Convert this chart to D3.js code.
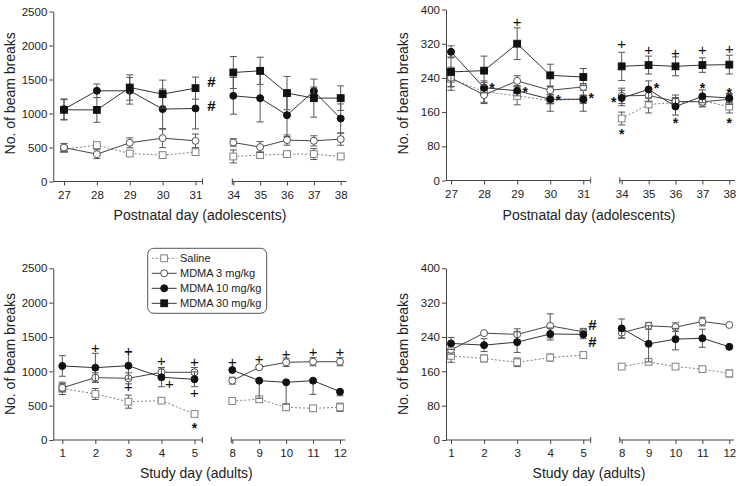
<!DOCTYPE html>
<html><head><meta charset="utf-8">
<script src="https://cdn.jsdelivr.net/npm/d3@7"></script>
<style>
body{margin:0;background:#fff;}
svg{display:block;font-family:"Liberation Sans",Arial,Helvetica,sans-serif;}
</style></head><body>
<svg id="c" width="739" height="486"></svg>
<script>
// ---------- DATA ----------
const adolDays = [27,28,29,30,31,34,35,36,37,38];
const adultDays = [1,2,3,4,5,8,9,10,11,12];
const groups = ["Saline","MDMA 3 mg/kg","MDMA 10 mg/kg","MDMA 30 mg/kg"];
const yTicksTotal = [0,500,1000,1500,2000,2500];
const yTicksVert = [0,80,160,240,320,400];

// top-left (adolescents, scale 0-2500)
const tlSaline = [476,535,412,388,432,368,388,403,403,368];
const tlSalineErr = [40,30,25,20,35,95,30,40,80,20];
const tl3 = [500,402,569,638,598,574,506,609,598,623];
const tl3Err = [60,65,73,140,100,55,80,75,75,90];
const tl10 = [1064,1334,1334,1065,1074,1260,1226,976,1329,926];
const tl10Err = [150,100,196,295,300,270,350,315,60,215];
const tl30 = [1054,1053,1382,1285,1373,1603,1628,1300,1226,1226];
const tl30Err = [150,182,186,206,162,235,200,245,280,180];

// top-right (adolescents, scale 0-400)
const trSaline = [238,208,198,187,191,145,178,182,186,173];
const trSalineErr = [27,25,21,25,29,15,20,12,12,15];
const tr3 = [240,200,233,211,219,198,199,185,184,190];
const tr3Err = [20,20,12,10,8,18,15,15,12,12];
const tr10 = [301,217,210,190,190,193,213,173,197,193];
const tr10Err = [14,12,12,10,10,18,20,20,15,10];
const tr30 = [254,257,320,246,242,267,270,267,270,271];
const tr30Err = [35,34,37,26,20,33,21,22,17,22];

// bottom-left (adults, scale 0-2500)
const blSaline = [752,670,558,573,379,568,593,476,461,476];
const blSalineErr = [90,80,95,40,20,20,40,40,40,60];
const bl3 = [760,908,898,986,986,864,1058,1131,1140,1140];
const bl3Err = [60,70,80,70,70,50,30,60,60,60];
const bl10 = [1078,1053,1082,913,884,1019,864,840,864,704];
const bl10ErrUp = [150,209,195,137,108,0,0,0,0,0];
const bl10ErrDn = [150,209,195,137,108,0,257,316,199,60];

// bottom-right (adults, scale 0-400)
const brSaline = [196,190,181,192,198,171,182,171,165,155];
const brSalineErr = [15,8,10,8,0,5,6,4,4,8];
const br3 = [210,249,246,266,252,250,266,263,276,268];
const br3Err = [10,0,13,28,8,13,8,10,10,0];
const br10 = [225,221,228,247,246,260,224,235,237,217];
const br10Err = [14,15,24,14,10,22,42,25,21,0];

// significance symbols: [day, value position, symbol]
const tlMarks = [[31,1463,"#"],[31,1110,"#"]];
const trMarks = [[29,370,"+"],[28,223,"*"],[29,214,"*"],[30,196,"*"],[31,200,"*"],
  [34,319,"+"],[34,192,"*"],[34,116,"*"],[35,305,"+"],[35,223,"*"],[36,299,"+"],[36,143,"*"],
  [37,304,"+"],[37,223,"*"],[38,308,"+"],[38,213,"*"],[38,143,"*"]];
const trMarkDx = [0,8,8,8,8, 0,-8,0,0,8,0,0, 0,0,0,0,0];
const blMarks = [[2,1335,"+"],[3,1300,"+"],[3,767,"+"],[4,1155,"+"],[4,815,"+"],[5,1131,"+"],[5,689,"+"],[5,218,"*"],
  [8,1140,"+"],[9,1179,"+"],[10,1252,"+"],[11,1286,"+"],[12,1277,"+"]];
const blMarkDx = [0,0,0,0,8,0,0,0,0,0,0,0,0];
const brMarks = [[5,268,"#"],[5,229,"#"]];

// ---------- STYLE ----------
const styles = [
  {sym:"square", fill:"#fff", stroke:"#808080", line:"#808080", dash:"2,2"},
  {sym:"circle", fill:"#fff", stroke:"#505050", line:"#444", dash:null},
  {sym:"circle", fill:"#111", stroke:"#111", line:"#333", dash:null},
  {sym:"square", fill:"#111", stroke:"#111", line:"#333", dash:null}
];
const axisColor = "#444", textColor = "#222", errColor = "#555";

const mk = (v, up, dn) => ({v, up, dn: dn || up});

const panels = [
  {days:adolDays, yMax:2500, yTicks:yTicksTotal, ax:53.3, y0:181.5, y1:11.5,
   a:[64,195.5], aEnd:202.5, b:[233.3,340.7], bStart:232.3, bEnd:346.5,
   title:"Postnatal day (adolescents)", tx:200, ty:219.7, ytx:15, yty:93.3,
   series:[mk(tlSaline,tlSalineErr), mk(tl3,tl3Err), mk(tl10,tl10Err), mk(tl30,tl30Err)],
   marks:tlMarks, markDx:[16,16]},
  {days:adolDays, yMax:400, yTicks:yTicksVert, ax:446, y0:180.5, y1:9.5,
   a:[451,583.3], aEnd:590.7, b:[621.7,729.3], bStart:619.8, bEnd:735,
   title:"Postnatal day (adolescents)", tx:589, ty:219.7, ytx:408.3, yty:93.3,
   series:[mk(trSaline,trSalineErr), mk(tr3,tr3Err), mk(tr10,tr10Err), mk(tr30,tr30Err)],
   marks:trMarks, markDx:trMarkDx},
  {days:adultDays, yMax:2500, yTicks:yTicksTotal, ax:53.3, y0:440, y1:268.3,
   a:[62.3,194.5], aEnd:202.3, b:[232.3,340], bStart:231.3, bEnd:345.5,
   title:"Study day (adults)", tx:196.3, ty:477.7, ytx:15, yty:354,
   series:[mk(blSaline,blSalineErr), mk(bl3,bl3Err), mk(bl10,bl10ErrUp,bl10ErrDn), null],
   marks:blMarks, markDx:blMarkDx},
  {days:adultDays, yMax:400, yTicks:yTicksVert, ax:446, y0:440, y1:268.3,
   a:[451,583.3], aEnd:590.7, b:[621.7,729.3], bStart:619.8, bEnd:734,
   title:"Study day (adults)", tx:589, ty:477.7, ytx:408.3, yty:354,
   series:[mk(brSaline,brSalineErr), mk(br3,br3Err), mk(br10,br10Err), null],
   marks:brMarks, markDx:[9,9]}
];

const svg = d3.select("#c");
svg.append("rect").attr("width",739).attr("height",486).attr("fill","#fff");

function drawSymbol(g, st, x, y) {
  if (st.sym === "square") {
    g.append("rect").attr("x", x-3.4).attr("y", y-3.4).attr("width",6.8).attr("height",6.8)
      .attr("fill", st.fill).attr("stroke", st.stroke).attr("stroke-width",1);
  } else {
    g.append("circle").attr("cx", x).attr("cy", y).attr("r",3.5)
      .attr("fill", st.fill).attr("stroke", st.stroke).attr("stroke-width",1);
  }
}

const symOffset = {"+":4.9, "*":8.3, "#":5.0};

panels.forEach(p => {
  const g = svg.append("g");
  const y = d3.scaleLinear().domain([0,p.yMax]).range([p.y0,p.y1]);
  const daysA = p.days.slice(0,5), daysB = p.days.slice(5);
  const xA = d3.scaleLinear().domain([daysA[0], daysA[4]]).range(p.a);
  const xB = d3.scaleLinear().domain([daysB[0], daysB[4]]).range(p.b);
  const xp = d => daysA.includes(d) ? xA(d) : xB(d);

  // y axis
  const ya = g.append("g").attr("transform",`translate(${p.ax},0)`)
    .call(d3.axisLeft(y).tickValues(p.yTicks).tickFormat(d3.format("d"))
      .tickSize(4).tickPadding(2).tickSizeOuter(0));
  // x axes (two segments)
  const xa1 = g.append("g").attr("transform",`translate(0,${p.y0})`)
    .call(d3.axisBottom(xA).tickValues(daysA).tickFormat(d3.format("d")).tickSize(4).tickPadding(5));
  const xa2 = g.append("g").attr("transform",`translate(0,${p.y0})`)
    .call(d3.axisBottom(xB).tickValues(daysB).tickFormat(d3.format("d")).tickSize(4).tickPadding(5));
  [xa1, xa2].forEach(a => a.select(".domain").remove());
  [ya, xa1, xa2].forEach(a => {
    a.selectAll("line,path").attr("stroke", axisColor);
    a.selectAll("text").attr("fill", textColor).style("font-size","11.5px")
      .style("font-family",'"Liberation Sans",Arial,sans-serif');
  });
  const axl = g.append("g").attr("stroke", axisColor).attr("stroke-width",1);
  axl.append("line").attr("x1",p.ax).attr("x2",p.aEnd).attr("y1",p.y0).attr("y2",p.y0);
  axl.append("line").attr("x1",p.aEnd).attr("x2",p.aEnd).attr("y1",p.y0-3).attr("y2",p.y0+3);
  axl.append("line").attr("x1",p.bStart).attr("x2",p.bEnd).attr("y1",p.y0).attr("y2",p.y0);
  axl.append("line").attr("x1",p.bStart).attr("x2",p.bStart).attr("y1",p.y0-3).attr("y2",p.y0+3);

  // titles
  g.append("text").attr("x",p.tx).attr("y",p.ty).attr("text-anchor","middle")
    .attr("fill",textColor).style("font-size","14px").text(p.title);
  g.append("text").attr("transform",`translate(${p.ytx},${p.yty}) rotate(-90)`)
    .attr("text-anchor","middle").attr("fill",textColor).style("font-size","14px")
    .text("No. of beam breaks");

  // series
  p.series.forEach((s, si) => {
    if (!s) return;
    const st = styles[si];
    const sg = g.append("g");
    const pts = p.days.map((d,i) => ({d, v:s.v[i], up:s.up[i], dn:s.dn[i]}));
    pts.forEach(pt => {
      const x = xp(pt.d);
      [[pt.up,1],[pt.dn,-1]].forEach(([e,sg1]) => {
        if (!e) return;
        const ye = y(pt.v + sg1*e);
        sg.append("line").attr("x1",x).attr("x2",x).attr("y1",y(pt.v)).attr("y2",ye)
          .attr("stroke",errColor).attr("stroke-width",1);
        sg.append("line").attr("x1",x-3.5).attr("x2",x+3.5).attr("y1",ye).attr("y2",ye)
          .attr("stroke",errColor).attr("stroke-width",1);
      });
    });
    const line = d3.line().x(pt => xp(pt.d)).y(pt => y(pt.v));
    [pts.slice(0,5), pts.slice(5)].forEach(seg => {
      sg.append("path").attr("d", line(seg)).attr("fill","none")
        .attr("stroke", st.line).attr("stroke-width",1)
        .attr("stroke-dasharray", st.dash);
    });
    pts.forEach(pt => drawSymbol(sg, st, xp(pt.d), y(pt.v)));
  });

  // significance marks
  p.marks.forEach((m, i) => {
    const sym = m[2];
    g.append("text").attr("x", xp(m[0]) + (p.markDx[i]||0)).attr("y", y(m[1]) + symOffset[sym])
      .attr("text-anchor","middle").attr("fill","#111")
      .style("font-size", sym === "*" ? "14px" : "15px")
      .style("font-weight", sym === "+" ? "normal" : "bold")
      .text(sym);
  });
});

// legend (inside bottom-left panel)
const lg = svg.append("g");
lg.append("rect").attr("x",147.7).attr("y",248.3).attr("width",119).attr("height",65).attr("rx",6)
  .attr("fill","#fff").attr("stroke","#555").attr("stroke-width",1);
groups.forEach((name, i) => {
  const st = styles[i];
  const yy = 258.3 + i*15;
  lg.append("line").attr("x1",151.7).attr("x2",176.7).attr("y1",yy).attr("y2",yy)
    .attr("stroke", st.line).attr("stroke-width",1).attr("stroke-dasharray", st.dash);
  drawSymbol(lg, st, 164.2, yy);
  lg.append("text").attr("x",180).attr("y",yy).attr("dy","0.36em").attr("fill",textColor)
    .style("font-size","11px").text(name);
});
</script></body></html>
